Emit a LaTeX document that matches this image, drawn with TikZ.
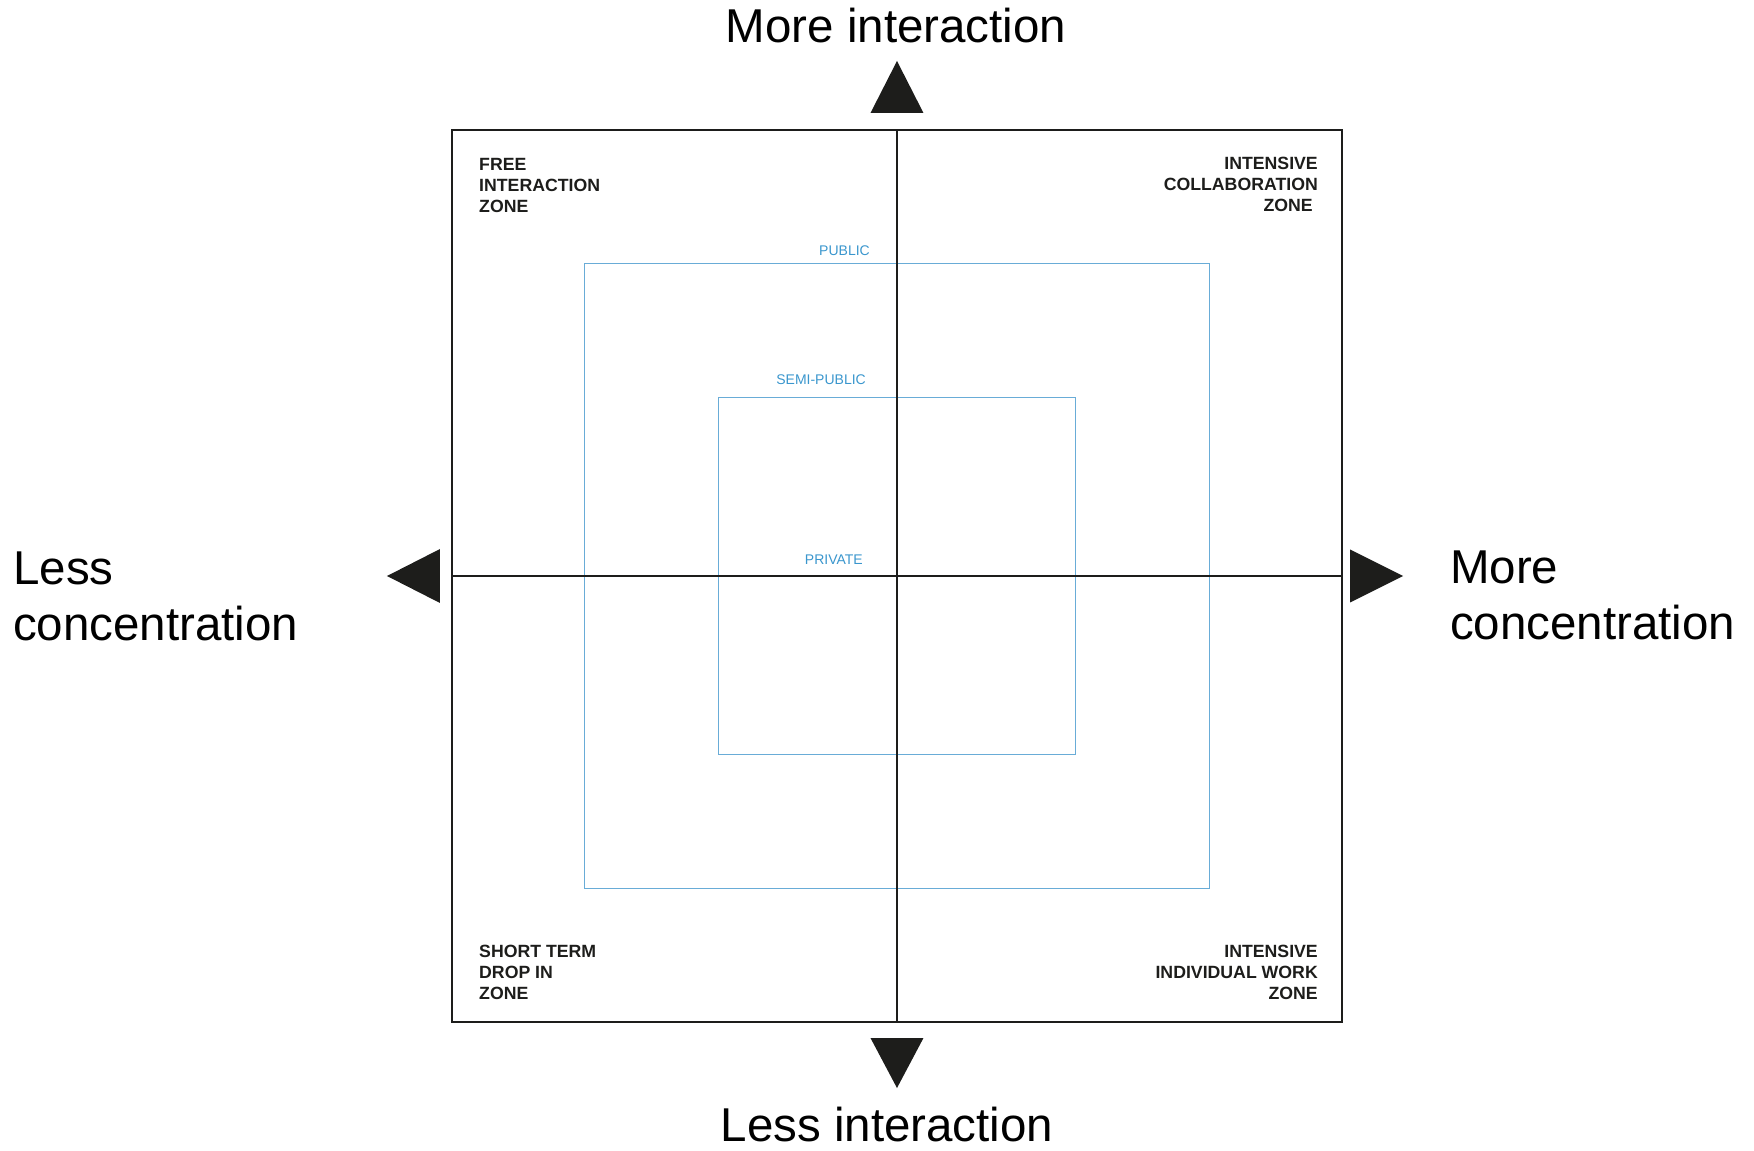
\documentclass[tikz,border=0pt]{standalone}
\usepackage{fontspec}
\setmainfont{Liberation Sans}
\usepackage{xcolor}
\definecolor{zoneblue}{RGB}{58,150,205}
\definecolor{ringblue}{RGB}{105,172,215}
\definecolor{inkblack}{RGB}{29,29,27}

\begin{document}
\begin{tikzpicture}[x=1pt,y=1pt,
    axis/.style={line width=2.6pt, inkblack},
    ring/.style={line width=1pt, ringblue},
    ringlabel/.style={text=zoneblue, font=\fontsize{14}{17}\selectfont, inner sep=0pt, anchor=base east},
    zonelabel/.style={text=inkblack, font=\fontsize{17.7}{21}\selectfont\bfseries, inner sep=0pt},
    biglabel/.style={font=\fontsize{47.5}{56}\selectfont, inner sep=0pt}]
    \useasboundingbox (-897,-575) rectangle (857,576);

    % public / semi-public rings
    \draw[ring] (-312,-312) rectangle (312,312);
    \draw[ring] (-178,-178) rectangle (178,178);
    \node[ringlabel] (public) at (-27,320) {PUBLIC};
    \node[ringlabel] (semipublic) at (-31,191) {SEMI-PUBLIC};
    \node[ringlabel] (private) at (-34,11) {PRIVATE};

    % frame and axes
    \draw[axis] (-445,-446) rectangle (445,446);
    \draw[axis] (0,446) -- (0,-446);
    \draw[axis] (-445,0) -- (445,0);

    % zones (base = last line)
    \node[zonelabel, align=left, anchor=base west] (free) at (-418,363) {FREE\\INTERACTION\\ZONE};
    \node[zonelabel, align=right, anchor=base east] (collab) at (421,364) {INTENSIVE\\COLLABORATION\\ZONE\kern5pt};
    \node[zonelabel, align=left, anchor=base west] (dropin) at (-418,-423) {SHORT TERM\\DROP IN\\ZONE};
    \node[zonelabel, align=right, anchor=base east] (individual) at (421,-423) {INTENSIVE\\INDIVIDUAL WORK\\ZONE};

    % direction arrows
    \fill[inkblack] (0,515) -- (-26.5,463) -- (26.5,463) -- cycle;
    \fill[inkblack] (0,-512) -- (-26.5,-462) -- (26.5,-462) -- cycle;
    \fill[inkblack] (-510,0) -- (-457,27) -- (-457,-27) -- cycle;
    \fill[inkblack] (506,0) -- (453,26.5) -- (453,-26.5) -- cycle;

    \node[biglabel, anchor=base] (moreint) at (-1,533) {More interaction};
    \node[biglabel, anchor=base] (lessint) at (-10,-565) {Less interaction};
    \node[biglabel, align=left, anchor=base west] (lessconc) at (-884,-65) {Less\\concentration};
    \node[biglabel, align=left, anchor=base west] (moreconc) at (553,-64) {More\\concentration};
\end{tikzpicture}
\end{document}
